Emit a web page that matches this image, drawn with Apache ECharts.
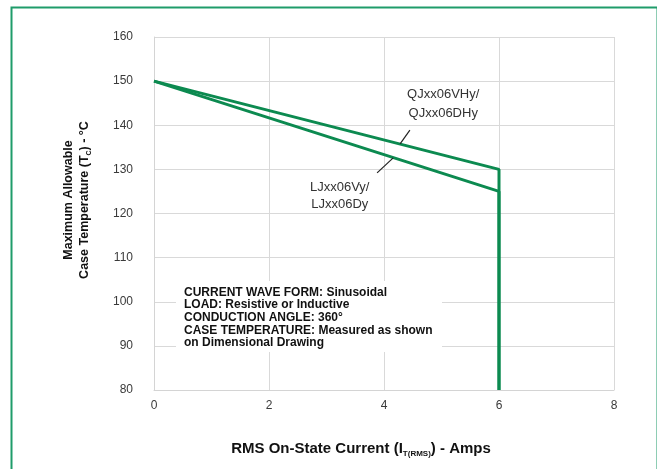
<!DOCTYPE html>
<html><head><meta charset="utf-8">
<script src="https://cdn.jsdelivr.net/npm/echarts@6/dist/echarts.min.js"></script>
<style>html,body{margin:0;padding:0;background:#fff}#c{width:657px;height:469px}</style>
</head><body><div id="c"></div>
<script>
// ---- data ----
var xTicks = [0, 2, 4, 6, 8];
var yTicks = [80, 90, 100, 110, 120, 130, 140, 150, 160];
var qjCurrent = [0, 6, 6];
var qjTemp = [150, 130, 80];
var ljCurrent = [0, 6, 6];
var ljTemp = [150, 125, 80];
var qjLabel = ['QJxx06VHy/', 'QJxx06DHy'];
var ljLabel = ['LJxx06Vy/', 'LJxx06Dy'];
var qjLeader = [[4.45, 138.9], [4.28, 135.8]];
var ljLeader = [[4.16, 132.6], [3.88, 129.2]];
var qjLabelPos = [5.03, 145.0];
var ljLabelPos = [3.23, 124.3];
var noteLines = ['CURRENT WAVE FORM: Sinusoidal', 'LOAD: Resistive or Inductive', 'CONDUCTION ANGLE: 360\u00b0', 'CASE TEMPERATURE: Measured as shown', 'on Dimensional Drawing'];

var FONT = 'Liberation Sans, Arial, sans-serif';
var GREEN = '#0c8a50';
function pairs(xs, ys) { return xs.map(function (x, i) { return [x, ys[i]]; }); }

var chart = echarts.init(document.getElementById('c'), null, {renderer: 'canvas'});
var option = {
  animation: false,
  backgroundColor: '#fff',
  grid: {left: 154, right: 43, top: 37, bottom: 79},
  xAxis: {
    type: 'value', min: xTicks[0], max: xTicks[xTicks.length - 1], interval: 2,
    axisLine: {show: true, lineStyle: {color: '#d4d4d4', width: 1}},
    axisTick: {show: false},
    splitLine: {show: true, lineStyle: {color: '#d9d9d9', width: 1}},
    axisLabel: {color: '#3a3a3a', fontSize: 12, fontFamily: FONT, margin: 10}
  },
  yAxis: {
    type: 'value', min: yTicks[0], max: yTicks[yTicks.length - 1], interval: 10,
    axisLine: {show: true, lineStyle: {color: '#d4d4d4', width: 1}},
    axisTick: {show: false},
    splitLine: {show: true, lineStyle: {color: '#d9d9d9', width: 1}},
    axisLabel: {color: '#3a3a3a', fontSize: 12, fontFamily: FONT, margin: 21}
  },
  series: [
    {type: 'line', name: 'QJ', data: pairs(qjCurrent, qjTemp), showSymbol: false, lineStyle: {color: GREEN, width: 3}, z: 3},
    {type: 'line', name: 'LJ', data: pairs(ljCurrent, ljTemp), showSymbol: false, lineStyle: {color: GREEN, width: 3}, z: 3}
  ]
};
chart.setOption(option);

function px(p) { return chart.convertToPixel({gridIndex: 0}, p); }
var q1 = px(qjLeader[0]), q2 = px(qjLeader[1]);
var l1 = px(ljLeader[0]), l2 = px(ljLeader[1]);
var qp = px(qjLabelPos), lp = px(ljLabelPos);

chart.setOption({
  graphic: [
    {type: 'rect', left: 9, top: 5, shape: {x: 0, y: 0, width: 646, height: 480},
     style: {fill: 'none', stroke: '#1f9c6a', lineWidth: 2}, z: 10, silent: true},
    {type: 'line', shape: {x1: q1[0], y1: q1[1], x2: q2[0], y2: q2[1]}, style: {stroke: '#222', lineWidth: 1.2}, z: 5},
    {type: 'line', shape: {x1: l1[0], y1: l1[1], x2: l2[0], y2: l2[1]}, style: {stroke: '#222', lineWidth: 1.2}, z: 5},
    {type: 'text', x: qp[0], y: qp[1] + 1, z: 5,
     style: {text: qjLabel.join('\n'), font: '13px ' + FONT, fill: '#333', align: 'center', verticalAlign: 'middle', lineHeight: 19}},
    {type: 'text', x: lp[0], y: lp[1] + 1, z: 5,
     style: {text: ljLabel.join('\n'), font: '13px ' + FONT, fill: '#333', align: 'center', verticalAlign: 'middle', lineHeight: 17}},
    {type: 'rect', shape: {x: 176, y: 281, width: 266, height: 71}, style: {fill: '#fff'}, z: 4},
    {type: 'text', x: 184, y: 286, z: 5,
     style: {text: noteLines.join('\n'), font: 'bold 12px ' + FONT, fill: '#111', lineHeight: 12.7, align: 'left', verticalAlign: 'top'}},
    {type: 'text', x: 361, y: 449, z: 5,
     style: {text: '{a|RMS On-State Current (I}{s|T(RMS)}{a|) - Amps}', align: 'center', verticalAlign: 'middle',
       rich: {a: {font: 'bold 15px ' + FONT, fill: '#111', lineHeight: 18, verticalAlign: 'middle'},
              s: {font: 'bold 8px ' + FONT, fill: '#111', lineHeight: 18, verticalAlign: 'bottom', padding: [7, 0, 0, 0]}}}},
    {type: 'text', x: 77, y: 200, rotation: Math.PI / 2, z: 5,
     style: {text: '{a|Maximum Allowable}\n{a|Case Temperature (T}{s|C}{a|) - \u00b0C}', align: 'center', verticalAlign: 'middle',
       rich: {a: {font: 'bold 12.5px ' + FONT, fill: '#111', lineHeight: 16, verticalAlign: 'middle'},
              s: {font: 'bold 7px ' + FONT, fill: '#111', lineHeight: 16, verticalAlign: 'bottom', padding: [6, 0, 0, 0]}}}}
  ]
});
</script>
</body></html>
